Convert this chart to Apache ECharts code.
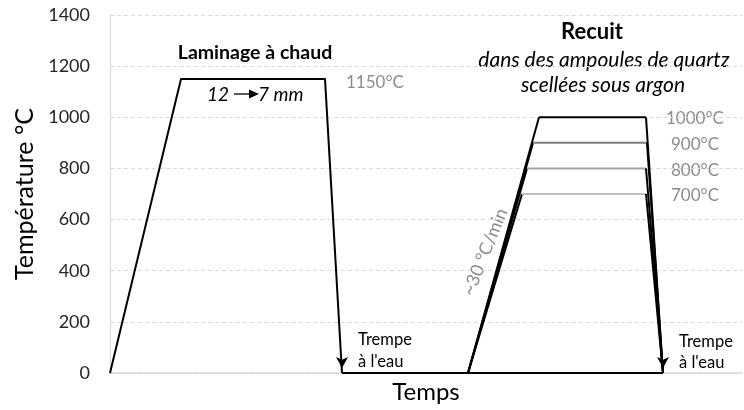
<!DOCTYPE html>
<html>
<head>
<meta charset="utf-8">
<script src="https://cdn.jsdelivr.net/npm/echarts@6/dist/echarts.min.js"></script>
<style>html,body{margin:0;padding:0;background:#fff}#c{width:744px;height:410px}</style>
</head>
<body>
<div id="c"></div>
<script>
// Time axis is arbitrary (no labels); temperatures in °C
const hotTime = [0, 71, 215, 232];
const hotTemp = [0, 1150, 1150, 0];
const holdTime = [232, 553];
const holdTemp = [0, 0];
const annealTemps = [1000, 900, 800, 700];
const rampStartTime = 358;
const plateauStartTime = [429, 423, 417, 412];
const plateauEndTime = [536, 537, 536, 536];
const quenchEndTime = 553;
const plateauColors = ['#000000', '#7f7f7f', '#a6a6a6', '#bfbfbf'];
const tempLabels = ['1000°C', '900°C', '800°C', '700°C'];

const FONT = 'Lato, "Open Sans", sans-serif';
const arrowItem = (x, y) => ({value: [x, y], symbol: 'arrow', symbolSize: [9, 11], symbolRotate: 180, symbolOffset: [0, -5], itemStyle: {color: '#000'}});

const series = [];
// Hot rolling
series.push({
  type: 'line', symbol: 'none', showSymbol: true, silent: true,
  itemStyle: {color: '#000'},
  lineStyle: {color: '#000', width: 2},
  data: hotTime.map((t, i) => i === hotTime.length - 1 ? arrowItem(t, hotTemp[i]) : {value: [t, hotTemp[i]], symbol: 'none'})
});
// Hold at room temperature
series.push({
  type: 'line', symbol: 'none', silent: true,
  lineStyle: {color: '#000', width: 2},
  data: holdTime.map((t, i) => [t, holdTemp[i]])
});
// Annealing
annealTemps.forEach((T, k) => {
  series.push({type: 'line', symbol: 'none', silent: true, lineStyle: {color: '#000', width: 2},
    data: [[rampStartTime, 0], [plateauStartTime[k], T]]});
  series.push({type: 'line', symbol: 'none', silent: true, lineStyle: {color: plateauColors[k], width: 2},
    data: [[plateauStartTime[k], T], [plateauEndTime[k], T]]});
  series.push({type: 'line', symbol: 'none', showSymbol: true, silent: true, itemStyle: {color: '#000'},
    lineStyle: {color: '#000', width: 2},
    data: [{value: [plateauEndTime[k], T], symbol: 'none'}, k === 0 ? arrowItem(quenchEndTime, 0) : {value: [quenchEndTime, 0], symbol: 'none'}]});
});

const gray = '#8c8c8c';
const txt = (x, y, text, font, fill, align, extra) => Object.assign({
  type: 'text', x: x, y: y, silent: true,
  style: {text: text, font: font, fill: fill || '#000', align: align || 'center', verticalAlign: 'middle'}
}, extra || {});

const graphic = [
  txt(255, 53, 'Laminage à chaud', 'bold 19.5px ' + FONT),
  txt(207, 95, '12', 'italic 19px ' + FONT, '#000', 'left'),
  {type: 'line', silent: true, shape: {x1: 234, y1: 94, x2: 251, y2: 94}, style: {stroke: '#000', lineWidth: 1.3}},
  {type: 'polygon', silent: true, shape: {points: [[249, 89.5], [259, 94], [249, 98.5]]}, style: {fill: '#000'}},
  txt(258, 95, '7 mm', 'italic 19px ' + FONT, '#000', 'left'),
  txt(346, 83, '1150°C', '17px ' + FONT, gray, 'left'),
  txt(592, 32, 'Recuit', 'bold 22px ' + FONT),
  txt(604, 60, 'dans des ampoules de quartz', 'italic 21px ' + FONT),
  txt(603, 85, 'scellées sous argon', 'italic 21px ' + FONT),
  txt(666, 119, tempLabels[0], '17px ' + FONT, gray, 'left'),
  txt(671, 145, tempLabels[1], '17px ' + FONT, gray, 'left'),
  txt(671, 171, tempLabels[2], '17px ' + FONT, gray, 'left'),
  txt(671, 196, tempLabels[3], '17px ' + FONT, gray, 'left'),
  txt(485, 252, '~30 °C/min', '18px ' + FONT, gray, 'center', {rotation: 68 * Math.PI / 180}),
  txt(358, 340, 'Trempe', '16.5px ' + FONT, '#000', 'left'),
  txt(358, 362, "à l'eau", '16.5px ' + FONT, '#000', 'left'),
  txt(679, 342, 'Trempe', '16.5px ' + FONT, '#000', 'left'),
  txt(679, 363, "à l'eau", '16.5px ' + FONT, '#000', 'left')
];

const chart = echarts.init(document.getElementById('c'), null, {renderer: 'canvas'});
chart.setOption({
  animation: false,
  backgroundColor: '#fff',
  grid: {left: 110, right: 2, top: 15, bottom: 37, containLabel: false},
  xAxis: {
    type: 'value', min: 0, max: 632,
    name: 'Temps', nameLocation: 'middle', nameGap: 7,
    nameTextStyle: {fontFamily: FONT, fontSize: 24, color: '#000'},
    axisLine: {show: true, lineStyle: {color: '#d9d9d9', width: 1.5}},
    axisTick: {show: false}, axisLabel: {show: false}, splitLine: {show: false}
  },
  yAxis: {
    type: 'value', min: 0, max: 1400, interval: 200,
    name: 'Température °C', nameLocation: 'middle', nameGap: 68,
    nameTextStyle: {fontFamily: FONT, fontSize: 25, color: '#000'},
    axisLine: {show: true, lineStyle: {color: '#d9d9d9', width: 1}},
    axisTick: {show: false},
    axisLabel: {fontFamily: FONT, fontSize: 18, color: '#262626', margin: 20, formatter: v => String(v)},
    splitLine: {show: true, lineStyle: {color: '#d9d9d9', type: [4, 3], width: 1}}
  },
  series: series,
  graphic: graphic
});
</script>
</body>
</html>
